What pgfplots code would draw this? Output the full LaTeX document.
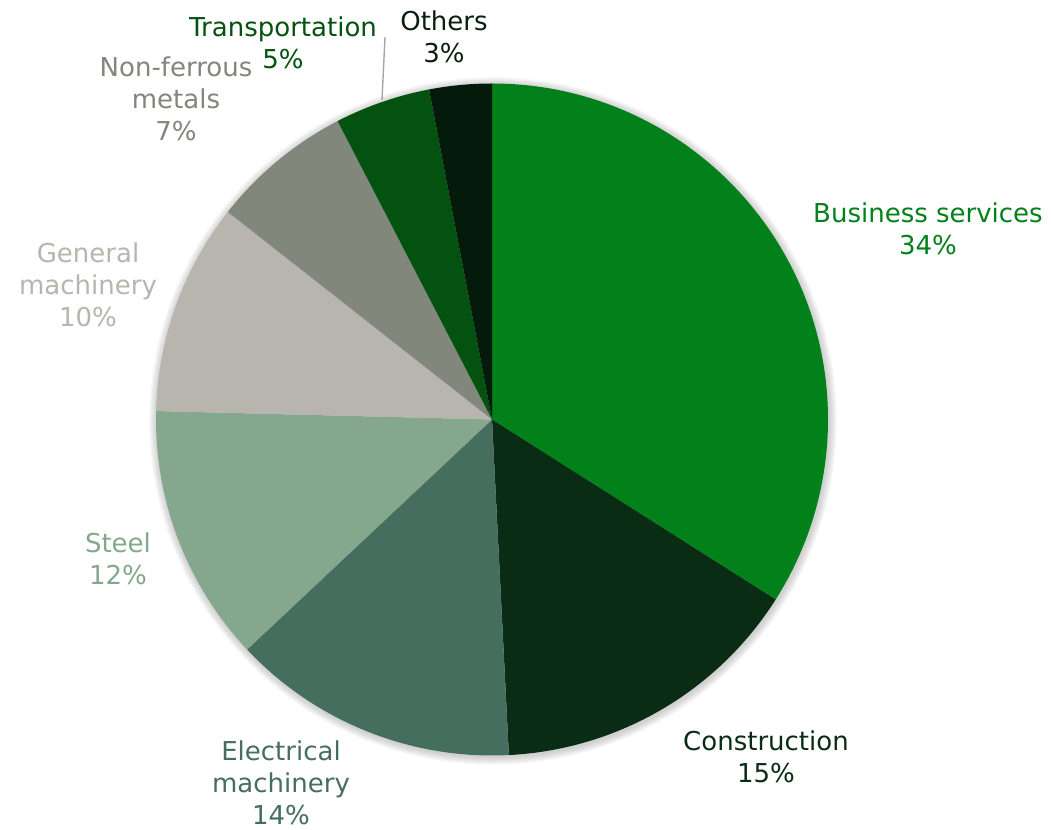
\documentclass[border=0pt]{standalone}
\usepackage{pgfplots}
\usepackage{pgfplotstable}
\pgfplotsset{compat=1.18}
\usepackage{fontspec}
\setmainfont{DejaVu Sans}
\definecolor{cBus}{HTML}{028019}
\definecolor{cCon}{HTML}{0A2C15}
\definecolor{cEle}{HTML}{466E5E}
\definecolor{cSte}{HTML}{84A78D}
\definecolor{cGen}{HTML}{B8B4AE}
\definecolor{cNon}{HTML}{81877B}
\definecolor{cTra}{HTML}{04520F}
\definecolor{cOth}{HTML}{041A0B}
\definecolor{cOthL}{HTML}{0A1F0F}
\definecolor{cLead}{HTML}{A6A6A6}
\pgfplotstableread{
idx value
0 34.0
1 15.2
2 13.8
3 12.4
4 10.2
5 6.8
6 4.6
7 3.0
}\piedata
\begin{document}
\begin{tikzpicture}
\begin{axis}[x=0.5pt,y=0.5pt,xmin=0,xmax=1051,ymin=0,ymax=830,hide axis,clip=false]
\addplot[draw=none] coordinates {(0,0) (1051,830)};
\pgfplotsextra{
  \path (axis cs:0,0) rectangle (axis cs:1051,830);
  \foreach \k in {1,...,10} {
    \fill[black,opacity=0.018] (axis cs:493,409) circle[radius={(336+\k*0.8)*0.5pt}];
  }
  \xdef\cum{0}
  \foreach \i/\col in {0/cBus,1/cCon,2/cEle,3/cSte,4/cGen,5/cNon,6/cTra,7/cOth} {
    \pgfplotstablegetelem{\i}{value}\of\piedata
    \pgfmathsetmacro\aA{90-3.6*\cum}
    \pgfmathsetmacro\newcum{\cum+\pgfplotsretval}
    \pgfmathsetmacro\aB{90-3.6*\newcum}
    \pgfmathsetmacro\px{492+336*cos(\aA)}
    \pgfmathsetmacro\py{410.5+336*sin(\aA)}
    \fill[\col] (axis cs:492,410.5) -- (axis cs:\px,\py) arc[start angle=\aA, end angle=\aB, radius=168pt] -- cycle;
    \xdef\cum{\newcum}
  }
  \draw[cLead,line width=0.7pt] (axis cs:385,793) -- (axis cs:382,730);
}
\tikzset{lab/.style={inner sep=0pt,align=center,font=\fontsize{13}{16}\selectfont}}
\node[lab,text=cBus] at (axis cs:928,601) {Business services\\34\%};
\node[lab,text=cCon] at (axis cs:766,73) {Construction\\15\%};
\node[lab,text=cEle] at (axis cs:281,47) {Electrical\\machinery\\14\%};
\node[lab,text=cSte] at (axis cs:118,271) {Steel\\12\%};
\node[lab,text=cGen] at (axis cs:88,545) {General\\machinery\\10\%};
\node[lab,text=cNon] at (axis cs:176,731) {Non-ferrous\\metals\\7\%};
\node[lab,text=cTra] at (axis cs:283,787) {Transportation\\5\%};
\node[lab,text=cOthL] at (axis cs:444,793) {Others\\3\%};
\end{axis}
\end{tikzpicture}
\end{document}
